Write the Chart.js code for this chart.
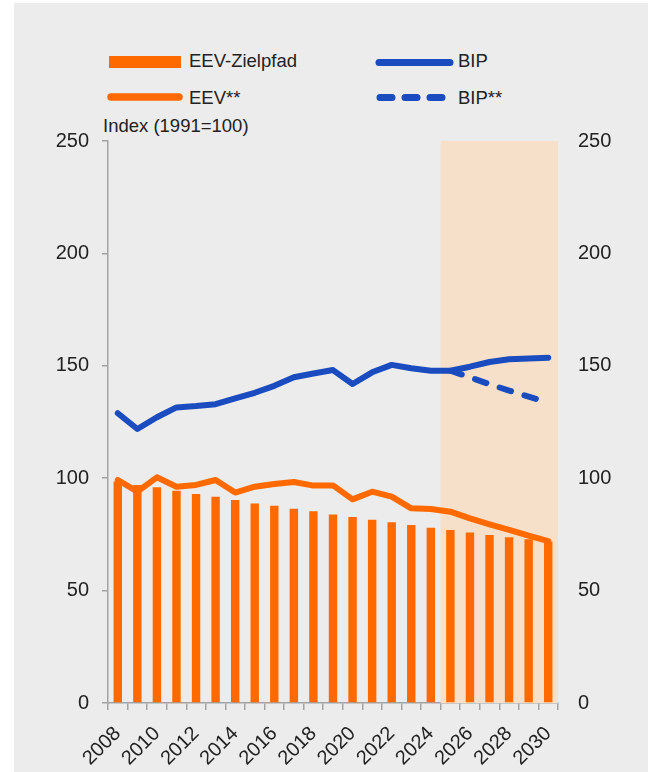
<!DOCTYPE html>
<html>
<head>
<meta charset="utf-8">
<script src="https://cdn.jsdelivr.net/npm/chart.js@4"></script>
<style>
  html, body { margin: 0; padding: 0; background: #fff; }
  body { width: 648px; height: 772px; position: relative; overflow: hidden; font-family: "Liberation Sans", Arial, sans-serif; color: #222; }
  #panel { position: absolute; left: 14px; top: 3px; right: 0; bottom: 0; background: #ececec; }
  #chart { position: absolute; left: 0; top: 0; }
  .lbl { position: absolute; font-size: 18.5px; line-height: 1; white-space: nowrap; }
  #legendSwatches { position: absolute; left: 0; top: 0; }
</style>
</head>
<body>
<div id="panel"></div>
<svg id="legendSwatches" width="648" height="120">
  <rect x="109" y="56" width="72" height="12" fill="#ff6a00"/>
  <line x1="111" y1="97" x2="179" y2="97" stroke="#ff6a00" stroke-width="7.5" stroke-linecap="round"/>
  <line x1="379" y1="62.5" x2="450" y2="62.5" stroke="#1a4cc0" stroke-width="7" stroke-linecap="round"/>
  <line x1="380" y1="97.5" x2="442" y2="97.5" stroke="#1a4cc0" stroke-width="7" stroke-linecap="round" stroke-dasharray="12 13"/>
</svg>
<div class="lbl" style="left:189px; top:52px;">EEV-Zielpfad</div>
<div class="lbl" style="left:189px; top:89px;">EEV**</div>
<div class="lbl" style="left:458px; top:52px;">BIP</div>
<div class="lbl" style="left:458px; top:89px;">BIP**</div>
<div class="lbl" style="left:103px; top:117px;">Index (1991=100)</div>
<canvas id="chart" width="648" height="772"></canvas>
<script>
// Jahre
const years = ['2008','2009','2010','2011','2012','2013','2014','2015','2016','2017','2018','2019',
  '2020','2021','2022','2023','2024','2025','2026','2027','2028','2029','2030'];

// EEV-Zielpfad (Balken)
const eevTarget = [98.5, 97, 96, 94.4, 93, 91.8, 90.3, 88.8, 87.8, 86.4, 85.3, 83.9,
  82.7, 81.5, 80.4, 79.2, 78, 77, 75.8, 74.7, 73.7, 72.8, 71.8];

// EEV** (Linie)
const eev = [99.2, 94, 100.4, 96.2, 97, 99.2, 93.6, 96.2, 97.4, 98.3, 96.7, 96.8,
  90.6, 94, 91.8, 86.6, 86.3, 85.1, 82.1, 79.5, 77, 74.4, 72];

// BIP
const bip = [128.9, 121.9, 127.1, 131.5, 132.1, 132.9, 135.5, 138, 141.1, 144.9, 146.6, 148.1,
  141.9, 147.1, 150.4, 148.9, 147.8, 147.8, 149.6, 151.7, 152.9, 153.2, 153.6];

// BIP** (gestrichelt, ab 2025)
const bipAlt = [null, null, null, null, null, null, null, null, null, null, null, null,
  null, null, null, null, null, 147.8, 144.9, 141.8, 139, 136.3, 133.5];

const yTicks = [0, 50, 100, 150, 200, 250];
const forecastStart = '2025';

const ORANGE = '#ff6a00';
const BLUE = '#1a4cc0';
const AXIS = '#a3a3a3';

// shaded forecast area
const shadePlugin = {
  id: 'shade',
  beforeDatasetsDraw(chart) {
    const { ctx, chartArea, scales } = chart;
    const i = years.indexOf(forecastStart);
    const left = (scales.x.getPixelForValue(i - 1) + scales.x.getPixelForValue(i)) / 2;
    ctx.save();
    ctx.fillStyle = '#f7e0c9';
    ctx.fillRect(left, chartArea.top, chartArea.right - left, chartArea.bottom - chartArea.top);
    ctx.restore();
  }
};

const tickFont = { family: '"Liberation Sans", Arial, sans-serif', size: 20 };

new Chart(document.getElementById('chart'), {
  data: {
    labels: years,
    datasets: [
      { type: 'line', label: 'BIP**', data: bipAlt, borderColor: BLUE, borderWidth: 6,
        borderDash: [12, 14], borderCapStyle: 'round', borderJoinStyle: 'round',
        pointRadius: 0, tension: 0, order: 1, yAxisID: 'y' },
      { type: 'line', label: 'BIP', data: bip, borderColor: BLUE, borderWidth: 6,
        borderCapStyle: 'round', borderJoinStyle: 'round', pointRadius: 0, tension: 0, order: 2, yAxisID: 'y' },
      { type: 'line', label: 'EEV**', data: eev, borderColor: ORANGE, borderWidth: 6,
        borderCapStyle: 'round', borderJoinStyle: 'round', pointRadius: 0, tension: 0, order: 3, yAxisID: 'y' },
      { type: 'bar', label: 'EEV-Zielpfad', data: eevTarget, backgroundColor: ORANGE,
        barPercentage: 0.43, categoryPercentage: 1, order: 4, yAxisID: 'y' }
    ]
  },
  options: {
    responsive: false,
    animation: false,
    layout: { padding: { top: 141, left: 0, right: 0, bottom: 0 } },
    plugins: { legend: { display: false }, tooltip: { enabled: false } },
    scales: {
      x: {
        grid: { offset: true, drawOnChartArea: false, tickLength: 7, color: AXIS, lineWidth: 1.5 },
        border: { color: AXIS, width: 1.5 },
        ticks: {
          color: '#222', font: tickFont, autoSkip: false, maxRotation: 45, minRotation: 45, padding: 12,
          callback: (v, i) => (i % 2 === 0 ? years[i] : '')
        },
        afterFit: s => { s.height = 69; }
      },
      y: {
        position: 'left', min: 0, max: 250,
        afterBuildTicks: s => { s.ticks = yTicks.map(v => ({ value: v })); },
        grid: { drawOnChartArea: false, tickLength: 6, color: AXIS, lineWidth: 1.5 },
        border: { color: AXIS, width: 1.5 },
        ticks: { color: '#222', font: tickFont, padding: 13 },
        afterFit: s => { s.width = 108; }
      },
      y2: {
        position: 'right', min: 0, max: 250,
        afterBuildTicks: s => { s.ticks = yTicks.map(v => ({ value: v })); },
        grid: { display: false, drawTicks: false },
        border: { display: false },
        ticks: { color: '#222', font: tickFont, padding: 20 },
        afterFit: s => { s.width = 90; }
      }
    }
  },
  plugins: [shadePlugin]
});
</script>
</body>
</html>
